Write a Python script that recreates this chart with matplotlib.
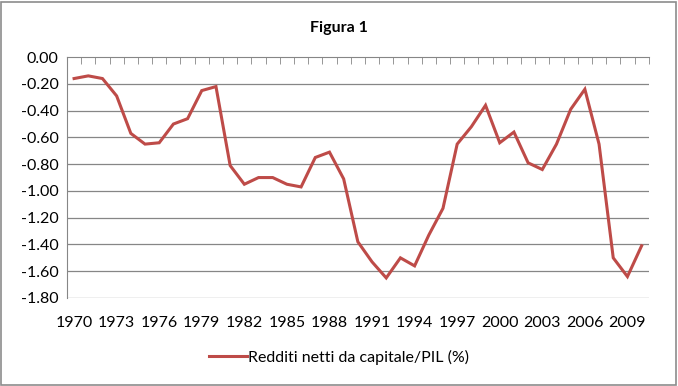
import numpy as np
import matplotlib
matplotlib.use('Agg')
import matplotlib.pyplot as plt
from matplotlib.patches import Rectangle

plt.rcParams['font.family'] = ['Lato', 'DejaVu Sans']

years = list(range(1970, 2011))
values = [-0.16, -0.14, -0.16, -0.29, -0.57, -0.65, -0.64, -0.50, -0.46, -0.25,
          -0.22, -0.81, -0.95, -0.90, -0.90, -0.95, -0.97, -0.75, -0.71, -0.91,
          -1.38, -1.53, -1.65, -1.50, -1.56, -1.33, -1.13, -0.65, -0.52, -0.36,
          -0.64, -0.56, -0.79, -0.84, -0.65, -0.39, -0.24, -0.65, -1.50, -1.64,
          -1.41]
label_years = years[::3]
y_ticks = [0.0, -0.2, -0.4, -0.6, -0.8, -1.0, -1.2, -1.4, -1.6, -1.8]

grid_col = '#868686'
line_col = '#BE4B48'

fig = plt.figure(figsize=(6.78, 3.86), dpi=100)
ax = fig.add_axes([0.0988, 0.228, 0.858, 0.624])

x = np.arange(len(years))
ax.plot(x, values, color=line_col, lw=2.2, solid_joinstyle='miter',
        label='Redditi netti da capitale/PIL (%)')

ax.set_xlim(-0.5, len(years) - 0.5)
ax.set_ylim(-1.8, 0.0)
ax.set_yticks(y_ticks)
ax.set_yticklabels([f'{v:.2f}' for v in y_ticks])
for v in y_ticks[1:]:
    ax.axhline(v, color=grid_col, lw=0.9, zorder=0)

ax.set_xticks([years.index(y) for y in label_years])
ax.set_xticklabels([str(y) for y in label_years])
ax.set_xticks(np.arange(-0.5, len(years)), minor=True)
ax.tick_params(axis='x', which='major', length=0, pad=13, labelsize=11.5)
ax.tick_params(axis='x', which='minor', top=True, bottom=False,
               direction='in', length=5, color=grid_col)
ax.tick_params(axis='y', length=0, pad=6, labelsize=11.5)

for s in ['right', 'bottom']:
    ax.spines[s].set_visible(False)
ax.spines['top'].set_color(grid_col)
ax.spines['left'].set_color(grid_col)

fig.text(0.5, 0.928, 'Figura 1', ha='center', va='center',
         fontsize=11.5, fontweight='bold')

fig.legend(loc='center', bbox_to_anchor=(0.5, 0.075), frameon=False,
           fontsize=11.5, handlelength=2.4, handletextpad=0.1)

fig.patches.append(Rectangle((0.002, 0.003), 0.995, 0.993, transform=fig.transFigure,
                             fill=False, edgecolor='#8c8c8c', lw=1.2))

fig.savefig('out.png', dpi=100)
